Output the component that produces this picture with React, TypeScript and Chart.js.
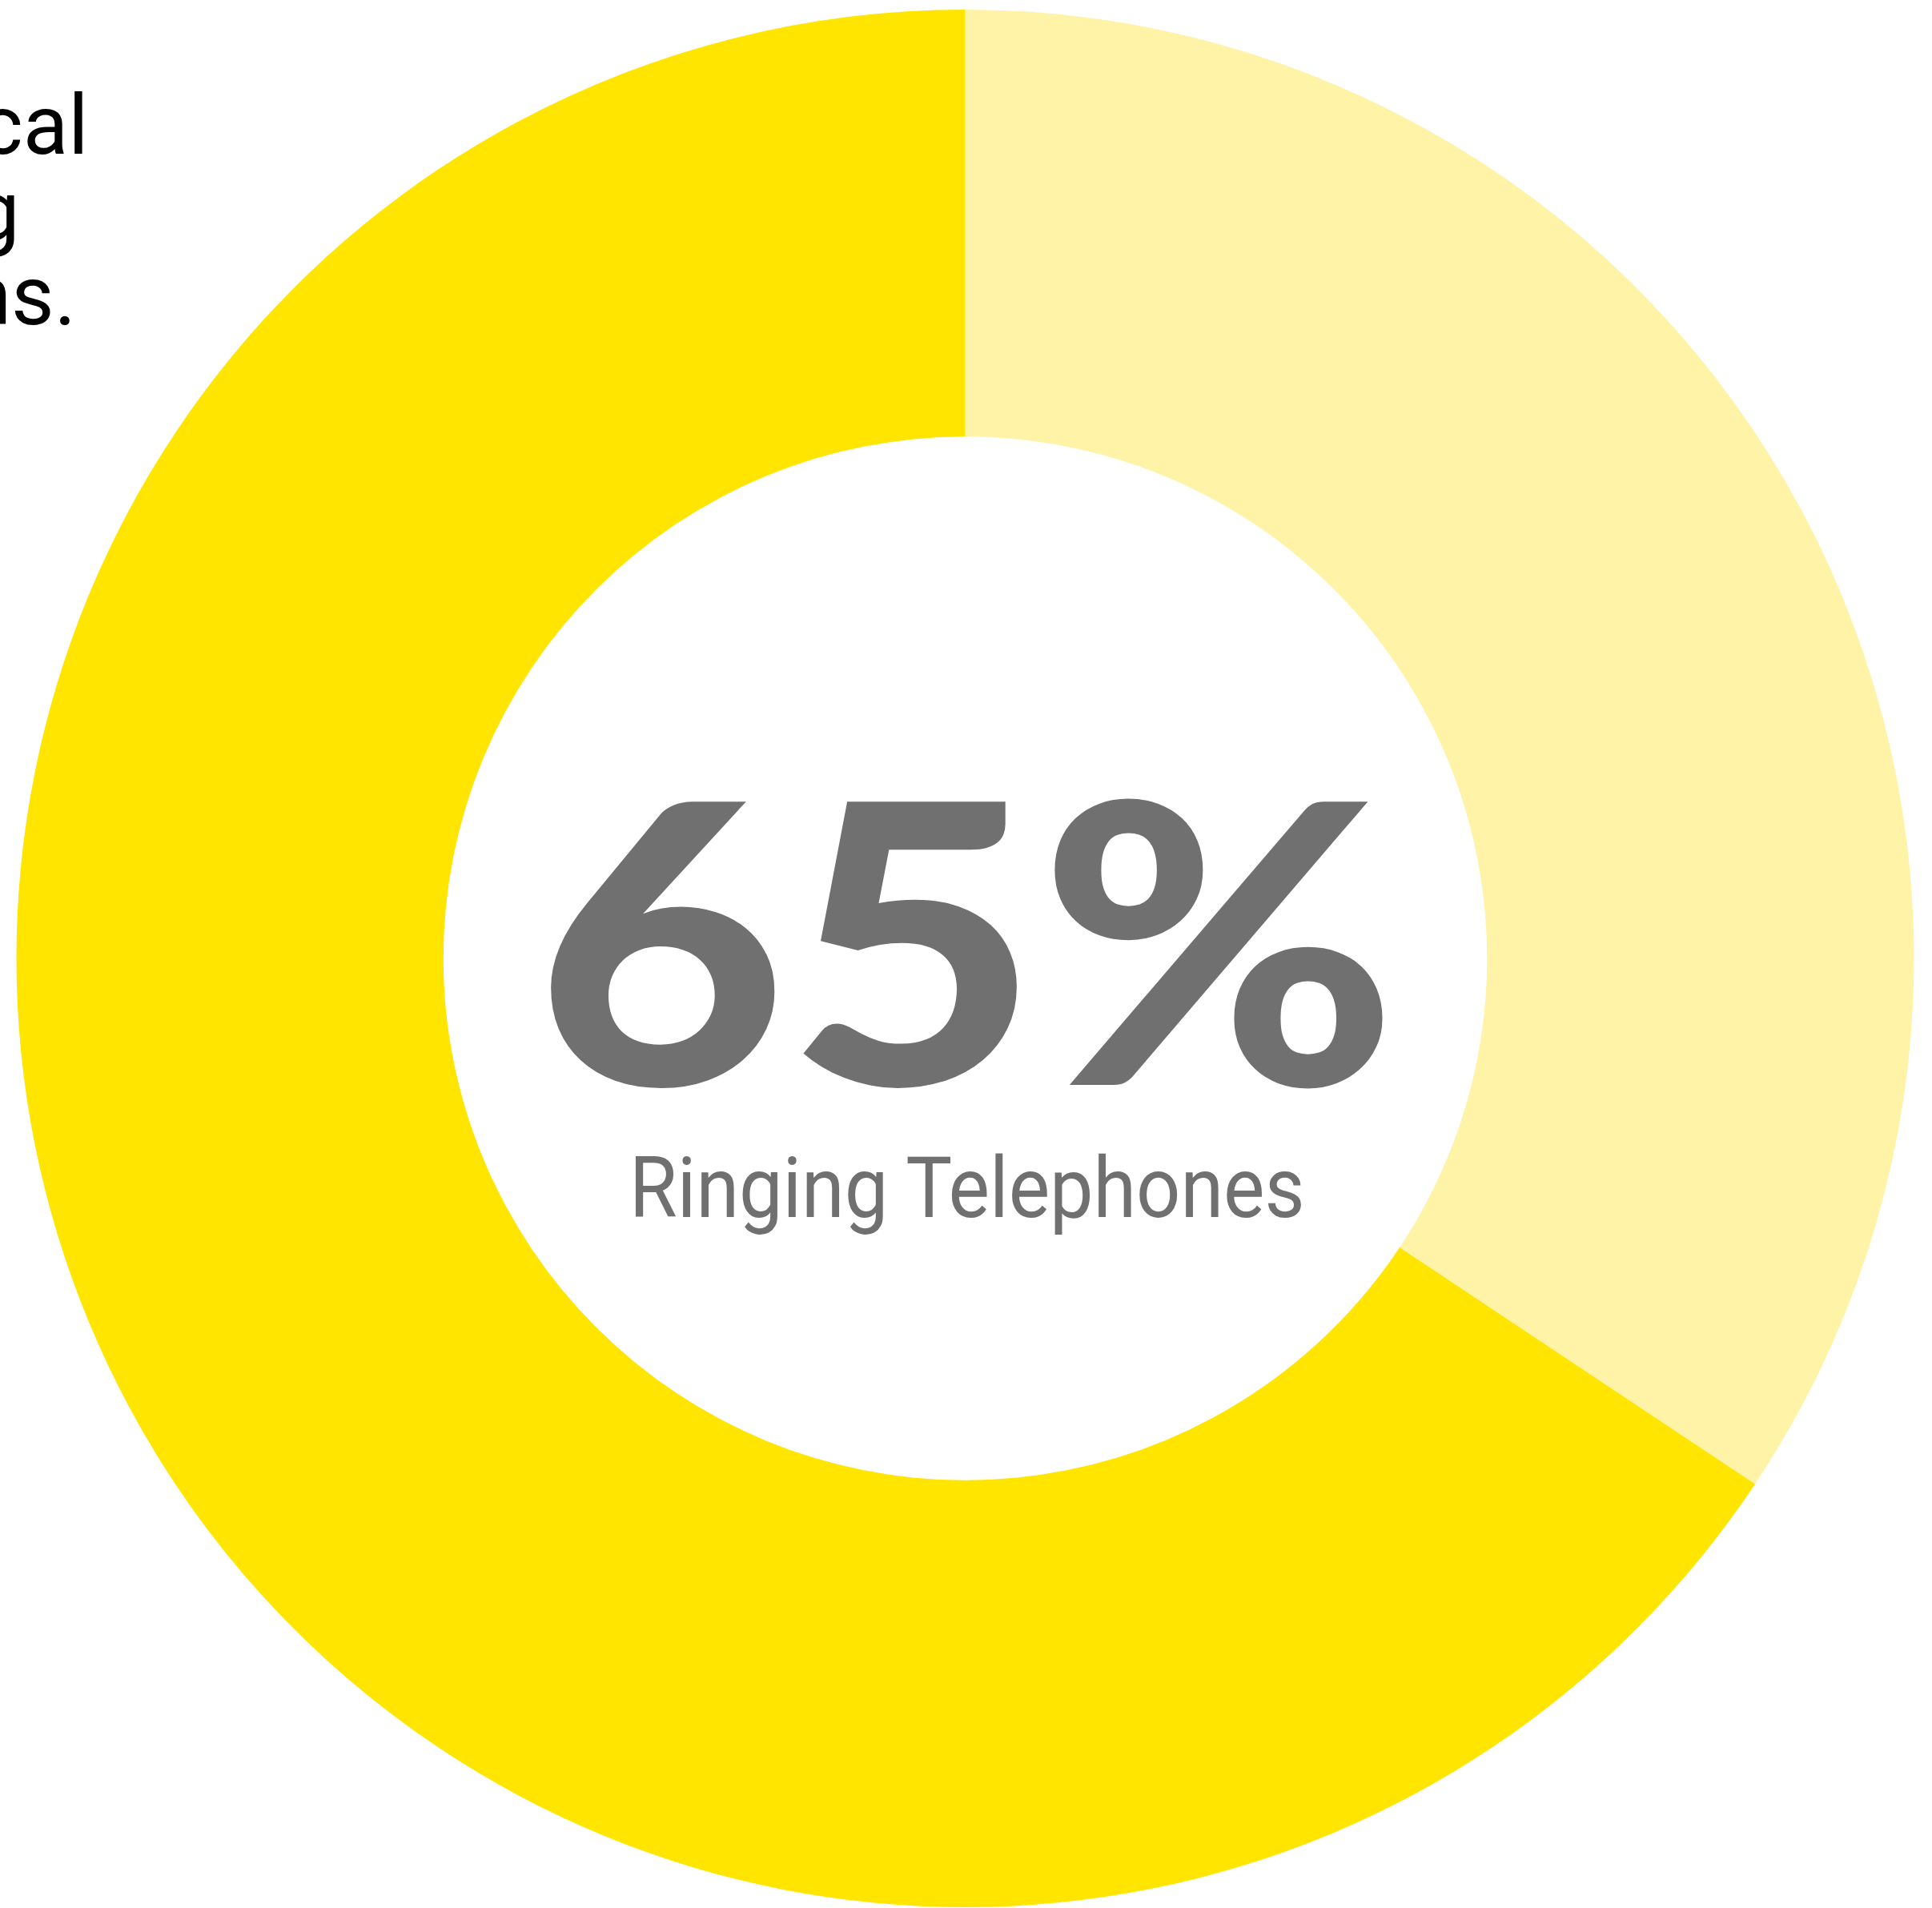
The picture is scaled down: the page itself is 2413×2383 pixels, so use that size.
import React, { useEffect, useRef, useMemo } from "react";
import { Chart, registerables } from "chart.js";

Chart.register(...registerables);

// ---- data ----
const categories = ["Other", "Ringing Telephones"];
const values = [34, 65];
const headlineLines = ["The most typical", "annoying", "distractions."];

// ---- styles ----
const segmentColors = ["#FFF3A7", "#FFE500"];
const W = 2413;
const H = 2383;

type Spec = {
  key: string;
  text: string;
  family: string;
  weight: number;
  color: string;
  refGlyph: string;
  refTop: number;
  refBottom: number;
  align: "left" | "right" | "center";
  x: number;
  width?: number;
  fixedSize?: number;
};

let measureCtx: CanvasRenderingContext2D | null = null;
function getCtx() {
  if (!measureCtx) measureCtx = document.createElement("canvas").getContext("2d");
  return measureCtx!;
}

function fontSizeFor(family: string, weight: number, glyph: string, h: number) {
  const ctx = getCtx();
  ctx.font = `${weight} 100px ${family}`;
  const r = ctx.measureText(glyph);
  return (100 * h) / (r.actualBoundingBoxAscent + r.actualBoundingBoxDescent);
}

function layout(spec: Spec): React.CSSProperties {
  const ctx = getCtx();
  const size =
    spec.fixedSize ?? fontSizeFor(spec.family, spec.weight, spec.refGlyph, spec.refBottom - spec.refTop);
  ctx.font = `${spec.weight} ${size}px ${spec.family}`;
  const rg = ctx.measureText(spec.refGlyph);
  const baseline = spec.refTop + rg.actualBoundingBoxAscent;
  const m = ctx.measureText(spec.text);
  const abl = m.actualBoundingBoxLeft;
  const abr = m.actualBoundingBoxRight;
  const inkW = abl + abr;
  const sx = spec.width ? spec.width / inkW : 1;
  let origin: number;
  if (spec.align === "left") origin = spec.x + abl * sx;
  else if (spec.align === "right") origin = spec.x - abr * sx;
  else origin = spec.x - (inkW * sx) / 2 + abl * sx;
  const A = m.fontBoundingBoxAscent;
  const D = m.fontBoundingBoxDescent;
  return {
    position: "absolute",
    left: origin,
    top: baseline - A,
    lineHeight: `${A + D}px`,
    height: A + D,
    fontFamily: spec.family,
    fontWeight: spec.weight,
    fontSize: `${size}px`,
    color: spec.color,
    whiteSpace: "nowrap",
    transform: `scaleX(${sx})`,
    transformOrigin: "0 0",
    margin: 0,
    padding: 0,
  };
}

export default function App() {
  const canvasRef = useRef<HTMLCanvasElement | null>(null);

  useEffect(() => {
    const canvas = canvasRef.current;
    if (!canvas) return;
    const chart = new Chart(canvas, {
      type: "doughnut",
      data: {
        labels: categories,
        datasets: [
          {
            data: values,
            backgroundColor: segmentColors,
            borderWidth: 0,
            hoverOffset: 0,
            offset: 0,
          },
        ],
      },
      options: {
        responsive: false,
        maintainAspectRatio: false,
        animation: false,
        devicePixelRatio: 1,
        events: [],
        cutout: "55%",
        rotation: 0,
        layout: { padding: { top: 12, bottom: 1, left: 0, right: 2 } },
        plugins: {
          legend: { display: false },
          tooltip: { enabled: false },
          title: { display: false },
        },
      },
    });
    return () => chart.destroy();
  }, []);

  const styles = useMemo(() => {
    const boldFamily = "Lato, 'Open Sans', sans-serif";
    const family = "Roboto, Inter, sans-serif";
    const headSize = fontSizeFor(family, 400, "l", 192 - 113);
    const headBaselines = [192, 299, 405];
    const headRights = [103.3, 18.3, 86.7];
    const specs: Spec[] = [
      {
        key: "pct",
        text: `${values[1]}%`,
        family: boldFamily,
        weight: 900,
        color: "#707070",
        refGlyph: "6",
        refTop: 997,
        refBottom: 1353,
        align: "left",
        x: 685,
        width: 1045,
      },
      {
        key: "sub",
        text: categories[1],
        family,
        weight: 400,
        color: "#707070",
        refGlyph: "R",
        refTop: 1444,
        refBottom: 1520,
        align: "left",
        x: 793,
        width: 834,
      },
    ];
    const ctx = getCtx();
    ctx.font = `400 ${headSize}px ${family}`;
    const la = ctx.measureText("l").actualBoundingBoxAscent;
    headlineLines.forEach((t, i) => {
      specs.push({
        key: "h" + i,
        text: t,
        family,
        weight: 400,
        color: "#000000",
        refGlyph: "l",
        refTop: headBaselines[i] - la,
        refBottom: headBaselines[i],
        align: "right",
        x: headRights[i],
        fixedSize: headSize,
      });
    });
    return specs.map((s) => ({ key: s.key, text: s.text, style: layout(s) }));
  }, []);

  return (
    <div
      style={{
        position: "absolute",
        left: 0,
        top: 0,
        width: W,
        height: H,
        overflow: "hidden",
        background: "#ffffff",
      }}
    >
      <canvas
        ref={canvasRef}
        width={W}
        height={H}
        style={{ position: "absolute", left: 0, top: 0, width: W, height: H }}
      />
      {styles.map((s) => (
        <div key={s.key} style={s.style}>
          {s.text}
        </div>
      ))}
    </div>
  );
}
